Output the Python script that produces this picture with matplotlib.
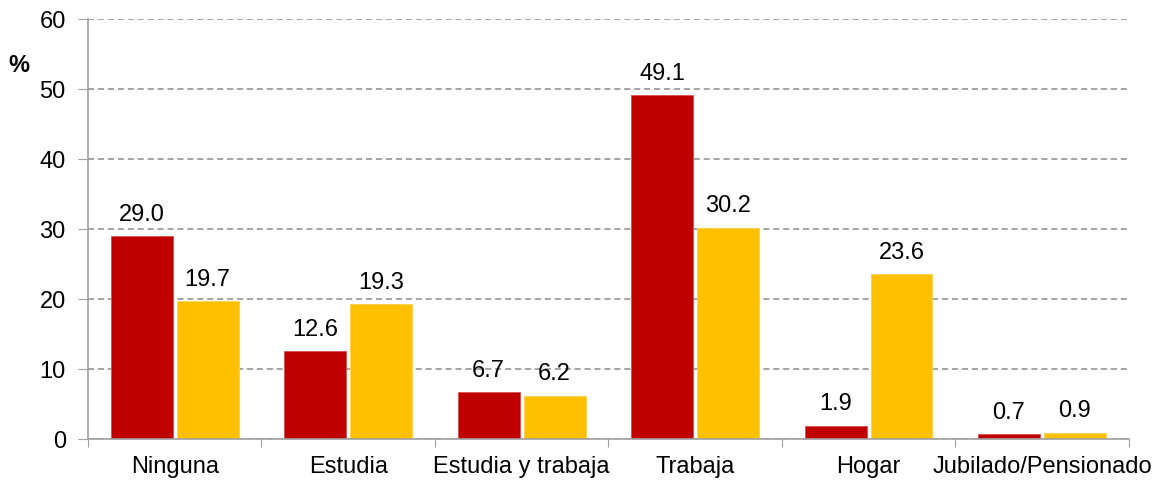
import numpy as np
import matplotlib
matplotlib.use('Agg')
import matplotlib.pyplot as plt

plt.rcParams['font.family'] = ['Liberation Sans', 'DejaVu Sans']

categorias = ['Ninguna', 'Estudia', 'Estudia y trabaja', 'Trabaja', 'Hogar', 'Jubilado/Pensionado']
serie_roja = [29.0, 12.6, 6.7, 49.1, 1.9, 0.7]
serie_amarilla = [19.7, 19.3, 6.2, 30.2, 23.6, 0.9]
yticks = [0, 10, 20, 30, 40, 50, 60]

fs = 17

fig = plt.figure(figsize=(11.6, 4.8), dpi=100)
ax = fig.add_axes([0.0759, 0.0854, 0.8971, 0.8746])

x = np.arange(len(categorias))
w = 0.357
b1 = ax.bar(x - 0.19, serie_roja, w, color='#C00000', edgecolor='#d85050', linewidth=0.6, zorder=3)
b2 = ax.bar(x + 0.19, serie_amarilla, w, color='#FFC000', edgecolor='#ffd050', linewidth=0.6, zorder=3)

for bars, vals in ((b1, serie_roja), (b2, serie_amarilla)):
    for r, v in zip(bars, vals):
        ax.annotate('%.1f' % v, (r.get_x() + r.get_width() / 2, v),
                    xytext=(0, 11), textcoords='offset points',
                    ha='center', va='baseline', fontsize=fs, color='#000000')

ax.set_xlim(-0.5, len(categorias) - 0.5)
ax.set_ylim(0, 60)
ax.set_yticks(yticks)
ax.set_yticklabels([str(t) for t in yticks], fontsize=fs)
ax.set_xticks(np.arange(len(categorias) + 1) - 0.5)
ax.set_xticklabels([])
ax.set_xticks(x, minor=True)
ax.set_xticklabels(categorias, minor=True, fontsize=fs)
ax.tick_params(axis='x', which='minor', length=0, pad=12)
ax.tick_params(axis='x', which='major', length=6, color='#a0a0a0', direction='out')
ax.tick_params(axis='y', length=7, color='#a0a0a0', pad=9)

ax.yaxis.grid(True, linestyle=(0, (4, 2.5)), color='#8c8c8c', linewidth=1.1, zorder=0)
for s in ['top', 'right']:
    ax.spines[s].set_visible(False)
for s in ['left', 'bottom']:
    ax.spines[s].set_color('#a0a0a0')
    ax.spines[s].set_linewidth(1.2)
ax.spines['bottom'].set_zorder(4)

fig.text(8 / 1160, 1 - 65 / 480, '%', fontsize=fs, fontweight='bold', ha='left', va='center')

fig.savefig('out.png', dpi=100)
